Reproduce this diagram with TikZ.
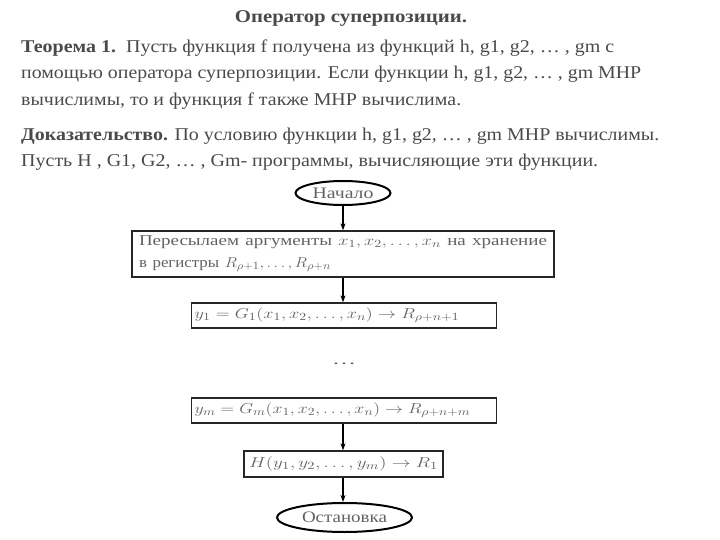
\documentclass[tikz,border=0pt]{standalone}
\usepackage{fontspec}
\setmainfont{Liberation Serif}
\usetikzlibrary{shapes.geometric,arrows.meta}
\definecolor{txt}{HTML}{4A4A4A}
\definecolor{ftxt}{HTML}{626262}
\newcommand\fitw[2]{\resizebox{#1}{\height}{#2}}
\begin{document}
\begin{tikzpicture}[x=1pt,y=-1pt,
  body/.style={anchor=base west, inner sep=0pt, text=txt, font=\fontsize{18}{20}\selectfont},
  box/.style={draw=black!85, line width=1.3pt, inner ysep=0pt, text=ftxt, font=\fontsize{15}{22}\selectfont},
  term/.style={ellipse, draw=black, line width=2pt, inner sep=0pt, text=ftxt, font=\fontsize{16}{18}\selectfont},
  arr/.style={-{Stealth[length=7pt,width=5pt]}, line width=1.5pt}]
\useasboundingbox (0,0) rectangle (720,540);
% text
\node[body, anchor=base, font=\bfseries\fontsize{18}{20}\selectfont] (title) at (351,23) {\fitw{232pt}{Оператор суперпозиции.}};
\node[body] (l1) at (21,53) {\fitw{593pt}{\textbf{Теорема 1.}\ \ Пусть функция f получена из функций h, g1, g2, … , gm с}};
\node[body] (l2) at (21,79) {\fitw{620pt}{помощью оператора суперпозиции. Если функции h, g1, g2, … , gm МНР}};
\node[body] (l3) at (21,106) {\fitw{440pt}{вычислимы, то и функция f также МНР вычислима.}};
\node[body] (l4) at (21,141) {\fitw{638pt}{\textbf{Доказательство.} По условию функции h, g1, g2, … , gm МНР вычислимы.}};
\node[body] (l5) at (21,167) {\fitw{577pt}{Пусть H , G1, G2, … , Gm- программы, вычисляющие эти функции.}};
% flowchart
\node[term, minimum width=95pt, minimum height=24pt] (start) at (343,193) {\makebox[0pt]{\fitw{61pt}{Начало}}};
\node[box, minimum width=422pt, minimum height=46pt, text width=408pt, align=left, inner xsep=7pt] (b1) at (343,254)
  {\fitw{408pt}{Пересылаем аргументы $x_1, x_2, \ldots, x_n$ на хранение}\\ \fitw{192pt}{в регистры $R_{\rho+1}, \ldots, R_{\rho+n}$}};
\node[box, minimum width=305pt, minimum height=25pt, text width=299pt, align=left, inner xsep=3pt] (b2) at (344,315.5)
  {\fitw{265pt}{$y_1 = G_1(x_1, x_2, \ldots, x_n) \rightarrow R_{\rho+n+1}$}};
\node[text=ftxt, font=\fontsize{15}{16}\selectfont, inner sep=0pt] (dots) at (344,364) {\fitw{24pt}{…}};
\node[box, minimum width=305pt, minimum height=25pt, text width=299pt, align=left, inner xsep=3pt] (b3) at (344,410.5)
  {\fitw{276pt}{$y_m = G_m(x_1, x_2, \ldots, x_n) \rightarrow R_{\rho+n+m}$}};
\node[box, minimum width=199pt, minimum height=26pt] (b4) at (343.5,464)
  {\fitw{189pt}{$H(y_1, y_2, \ldots, y_m) \rightarrow R_1$}};
\node[term, minimum width=135pt, minimum height=29pt] (stop) at (344.5,517.5) {\makebox[0pt]{\fitw{85pt}{Остановка}}};
\draw[arr] (start.south) -- (start.south |- b1.north);
\draw[arr] (b1.south -| start.south) -- (start.south |- b2.north);
\draw[arr] (b3.south -| start.south) -- (start.south |- b4.north);
\draw[arr] (b4.south -| start.south) -- (start.south |- stop.north);
\end{tikzpicture}
\end{document}
